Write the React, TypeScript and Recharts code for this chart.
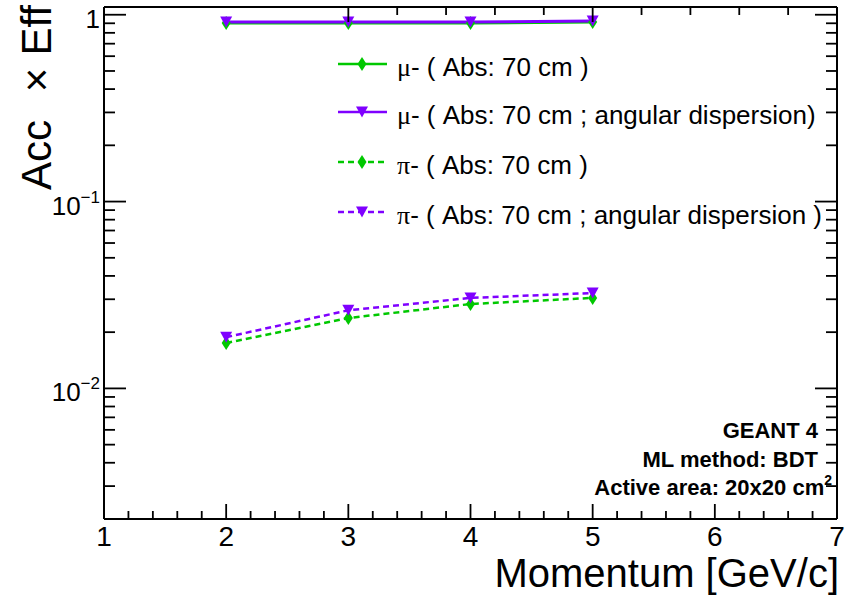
import React from 'react';
import { LineChart, Line, XAxis, YAxis, Legend, Customized } from 'recharts';

// ---- data ----
const momentum = [2, 3, 4, 5];
const muAbs = [0.903, 0.903, 0.903, 0.913];
const muAbsAng = [0.914, 0.914, 0.914, 0.925];
const piAbs = [0.0175, 0.0238, 0.0283, 0.0305];
const piAbsAng = [0.0188, 0.0262, 0.0305, 0.0324];

const xMajorTicks = [1, 2, 3, 4, 5, 6, 7];
const yMajorTicks = [0.01, 0.1, 1];
const yMajorBase = ['10', '10', '1'];
const yMajorExp = ['\u22122', '\u22121', ''];

const X_DOMAIN: [number, number] = [1, 7];
const Y_DOMAIN: [number, number] = [0.002, 1.1];

const GREEN = '#00c800';
const PURPLE = '#7f00ff';
const FONT = '"Liberation Sans", Arial, Helvetica, sans-serif';
const SERIF = '"Liberation Serif", "DejaVu Serif", serif';

const series = [
  { key: 'muAbs', greek: '\u03bc', label: '- ( Abs: 70 cm )', color: GREEN, dash: undefined as string | undefined, marker: 'diamond' },
  { key: 'muAbsAng', greek: '\u03bc', label: '- ( Abs: 70 cm ; angular dispersion)', color: PURPLE, dash: undefined as string | undefined, marker: 'triangle' },
  { key: 'piAbs', greek: '\u03c0', label: '- ( Abs: 70 cm )', color: GREEN, dash: '6 4', marker: 'diamond' },
  { key: 'piAbsAng', greek: '\u03c0', label: '- ( Abs: 70 cm ; angular dispersion )', color: PURPLE, dash: '6 4', marker: 'triangle' },
];

const data = momentum.map((p, i) => ({
  p,
  muAbs: muAbs[i],
  muAbsAng: muAbsAng[i],
  piAbs: piAbs[i],
  piAbsAng: piAbsAng[i],
}));

// tick lists (major + minor)
const xTicks: number[] = [];
for (let k = 0; k <= 30; k++) xTicks.push(Math.round((1 + k * 0.2) * 1000) / 1000);
const yTicks: number[] = [];
[0.001, 0.01, 0.1, 1].forEach((d) => {
  for (let m = 1; m <= 9; m++) {
    const v = Math.round(m * d * 1e6) / 1e6;
    if (v >= Y_DOMAIN[0] - 1e-9 && v <= Y_DOMAIN[1]) yTicks.push(v);
  }
});

const isXMajor = (v: number) => xMajorTicks.some((t) => Math.abs(t - v) < 1e-6);
const yMajorIndex = (v: number) => yMajorTicks.findIndex((t) => Math.abs(t - v) / t < 1e-6);

// ---- markers ----
const markerPath = (kind: string, cx: number, cy: number) =>
  kind === 'diamond'
    ? `M${cx},${cy - 7} L${cx + 4.5},${cy} L${cx},${cy + 7} L${cx - 4.5},${cy} Z`
    : `M${cx - 6},${cy - 5.5} L${cx + 6},${cy - 5.5} L${cx},${cy + 5.5} Z`;

// ---- custom ticks ----
const BottomTick = (props: any) => {
  const { x, y, payload } = props;
  const v = payload.value;
  const major = isXMajor(v);
  return (
    <g>
      <line x1={x} x2={x} y1={y} y2={y - (major ? 15 : 8)} stroke="#000" strokeWidth={1.8} />
      {major && (
        <text x={x} y={y + 27} textAnchor="middle" fontSize={28} fontFamily={FONT} fill="#000">
          {Math.round(v)}
        </text>
      )}
    </g>
  );
};

const TopTick = (props: any) => {
  const { x, y, payload } = props;
  const major = isXMajor(payload.value);
  return <line x1={x} x2={x} y1={y} y2={y + (major ? 15 : 8)} stroke="#000" strokeWidth={1.8} />;
};

const LeftTick = (props: any) => {
  const { x, y, payload } = props;
  const idx = yMajorIndex(payload.value);
  const major = idx >= 0;
  return (
    <g>
      <line x1={x} x2={x + (major ? 22 : 11)} y1={y} y2={y} stroke="#000" strokeWidth={1.8} />
      {major && (
        <text x={x - 4} y={y + 13} textAnchor="end" fontSize={26} fontFamily={FONT} fill="#000">
          <tspan>{yMajorBase[idx]}</tspan>
          {yMajorExp[idx] && (
            <tspan dy={-12} fontSize={17}>
              {yMajorExp[idx]}
            </tspan>
          )}
        </text>
      )}
    </g>
  );
};

const RightTick = (props: any) => {
  const { x, y, payload } = props;
  const major = yMajorIndex(payload.value) >= 0;
  return <line x1={x} x2={x - (major ? 22 : 11)} y1={y} y2={y} stroke="#000" strokeWidth={1.8} />;
};

// ---- legend ----
const LEG_LEFT = 320;
const LEG_TOP = 40;
const legendRowY = [64, 112, 162, 212];

const LegendContent = () => (
  <svg width={520} height={200} style={{ overflow: 'visible', display: 'block' }}>
    {series.map((s, i) => {
      const ly = legendRowY[i] - LEG_TOP;
      return (
        <g key={s.key}>
          <line x1={18} x2={67} y1={ly} y2={ly} stroke={s.color} strokeWidth={2.5} strokeDasharray={s.dash} />
          <path d={markerPath(s.marker, 42, ly)} fill={s.color} />
          <text x={77} y={ly + 12} fontSize={26} fontFamily={FONT} fill="#000">
            <tspan fontFamily={SERIF}>{s.greek}</tspan>
            <tspan>{s.label}</tspan>
          </text>
        </g>
      );
    })}
  </svg>
);

// ---- texts ----
const Annotations = () => (
  <g fontFamily={FONT} fill="#000">
    <text x={51} y={190} transform="rotate(-90 51 190)" fontSize={42} textAnchor="start">Acc</text>
    <text x={51} y={80} transform="rotate(-90 51 80)" fontSize={42} textAnchor="middle">{'\u00d7'}</text>
    <text x={51} y={5} transform="rotate(-90 51 5)" fontSize={42} textAnchor="end">Eff</text>
    <text x={839} y={587} fontSize={40} textAnchor="end">Momentum [GeV/c]</text>
    <text x={818} y={438} fontSize={22} fontWeight="bold" textAnchor="end">GEANT 4</text>
    <text x={818} y={467} fontSize={22} fontWeight="bold" textAnchor="end">ML method: BDT</text>
    <text x={832} y={495} fontSize={22} fontWeight="bold" textAnchor="end">
      <tspan>Active area: 20x20 cm</tspan>
      <tspan dy={-10} fontSize={14}>2</tspan>
    </text>
  </g>
);

export default function App() {
  return (
    <div style={{ position: 'absolute', left: 0, top: 0, width: 849, height: 595, background: '#fff' }}>
      <LineChart
        width={849}
        height={595}
        data={data}
        margin={{ top: 2, right: 2, bottom: 36, left: 24 }}
      >
        <XAxis
          xAxisId="bottom"
          dataKey="p"
          type="number"
          domain={X_DOMAIN}
          allowDataOverflow
          ticks={xTicks}
          interval={0}
          height={40}
          tickSize={0}
          tickMargin={0}
          tickLine={false}
          axisLine={{ stroke: '#000', strokeWidth: 2 }}
          tick={<BottomTick />}
        />
        <XAxis
          xAxisId="top"
          orientation="top"
          type="number"
          domain={X_DOMAIN}
          allowDataOverflow
          ticks={xTicks}
          interval={0}
          height={5}
          tickSize={0}
          tickMargin={0}
          tickLine={false}
          axisLine={{ stroke: '#000', strokeWidth: 2 }}
          tick={<TopTick />}
        />
        <YAxis
          yAxisId="left"
          scale="log"
          type="number"
          domain={Y_DOMAIN}
          allowDataOverflow
          ticks={yTicks}
          interval={0}
          width={80}
          tickSize={0}
          tickMargin={0}
          tickLine={false}
          axisLine={{ stroke: '#000', strokeWidth: 2 }}
          tick={<LeftTick />}
        />
        <YAxis
          yAxisId="right"
          orientation="right"
          scale="log"
          type="number"
          domain={Y_DOMAIN}
          allowDataOverflow
          ticks={yTicks}
          interval={0}
          width={10}
          tickSize={0}
          tickMargin={0}
          tickLine={false}
          axisLine={{ stroke: '#000', strokeWidth: 2 }}
          tick={<RightTick />}
        />
        {series.map((s) => (
          <Line
            key={s.key}
            xAxisId="bottom"
            yAxisId="left"
            dataKey={s.key}
            type="linear"
            stroke={s.color}
            strokeWidth={s.dash ? 2.5 : 3}
            strokeDasharray={s.dash}
            isAnimationActive={false}
            dot={(props: any) => (
              <path key={`${s.key}-${props.index}`} d={markerPath(s.marker, props.cx, props.cy)} fill={s.color} />
            )}
            activeDot={false}
          />
        ))}
        <Legend
          verticalAlign="middle"
          align="center"
          layout="horizontal"
          wrapperStyle={{ position: 'absolute', left: LEG_LEFT, top: LEG_TOP, width: 520, height: 200 }}
          content={() => <LegendContent />}
        />
        <Customized component={<Annotations />} />
      </LineChart>
    </div>
  );
}
